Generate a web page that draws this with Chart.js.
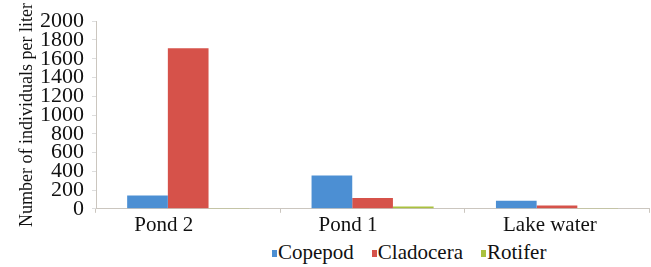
<!DOCTYPE html>
<html>
<head>
<meta charset="utf-8">
<script src="https://cdn.jsdelivr.net/npm/chart.js@4/dist/chart.umd.min.js"></script>
<style>
  html, body { margin: 0; padding: 0; background: #fff; }
  #wrap { position: relative; width: 651px; height: 267px; }
  #chart { display: block; }
  #legend {
    position: absolute; left: 272px; top: 238px; height: 29px;
    display: flex; align-items: center;
    font-family: 'Liberation Serif', 'Times New Roman', Times, 'DejaVu Serif', serif;
    font-size: 21px; color: #111;
    white-space: nowrap;
  }
  #legend .item { display: flex; align-items: center; margin-right: 18px; }
  #legend .box { width: 5px; height: 7px; margin-right: 1px; position: relative; top: 1px; }
</style>
</head>
<body>
<div id="wrap">
  <canvas id="chart" width="651" height="238"></canvas>
  <div id="legend"></div>
</div>
<script>
const categories = ["Pond 2", "Pond 1", "Lake water"];
const seriesNames = ["Copepod", "Cladocera", "Rotifer"];
const copepod = [143, 355, 85];
const cladocera = [1711, 116, 34];
const rotifer = [3, 24, 4];
const yTicks = [0, 200, 400, 600, 800, 1000, 1200, 1400, 1600, 1800, 2000];

const colors = ['#4c8fd3', '#d6524a', '#aac13e'];
const serif = "'Liberation Serif', 'Times New Roman', Times, 'DejaVu Serif', serif";
const axisGray = '#cbc6bf';
Chart.defaults.font.family = serif;
Chart.defaults.color = '#111';

const chart = new Chart(document.getElementById('chart'), {
  type: 'bar',
  data: {
    labels: categories,
    datasets: [
      { label: seriesNames[0], data: copepod, backgroundColor: colors[0] },
      { label: seriesNames[1], data: cladocera, backgroundColor: colors[1] },
      { label: seriesNames[2], data: rotifer, backgroundColor: colors[2] }
    ]
  },
  options: {
    responsive: false,
    animation: false,
    layout: { padding: { left: 4, right: 1, top: 0, bottom: 0 } },
    datasets: { bar: { categoryPercentage: 0.662, barPercentage: 1 } },
    plugins: {
      legend: { display: false },
      tooltip: { enabled: false }
    },
    scales: {
      x: {
        grid: { display: true, drawOnChartArea: false, tickLength: 4, color: axisGray },
        border: { color: axisGray },
        ticks: {
          font: { size: 21 },
          color: '#111',
          padding: 0,
          align: 'start',
          labelOffset: -54
        },
        offset: true
      },
      y: {
        min: 0,
        max: 2000,
        afterBuildTicks: (s) => { s.ticks = yTicks.map(v => ({ value: v })); },
        grid: { display: true, drawOnChartArea: false, tickLength: 4, color: '#ddd' },
        border: { color: axisGray },
        ticks: {
          font: { size: 22 },
          color: '#111',
          padding: 8,
          autoSkip: false,
          callback: (v) => String(v)
        },
        title: {
          display: true,
          text: 'Number of individuals per liter',
          font: { size: 18 },
          color: '#111',
          padding: { top: 12, bottom: 0 }
        },
        afterFit: (s) => { s.width = 92; }
      }
    }
  }
});

// legend drawn as html, with the tight box/label spacing of the original
const legendEl = document.getElementById('legend');
chart.data.datasets.forEach((ds) => {
  const item = document.createElement('span');
  item.className = 'item';
  const box = document.createElement('span');
  box.className = 'box';
  box.style.background = ds.backgroundColor;
  const txt = document.createElement('span');
  txt.textContent = ds.label;
  item.appendChild(box);
  item.appendChild(txt);
  legendEl.appendChild(item);
});
</script>
</body>
</html>
